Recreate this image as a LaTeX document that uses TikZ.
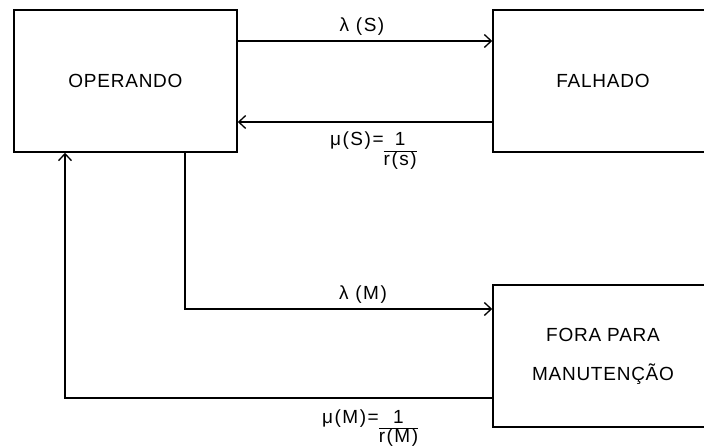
\documentclass[tikz,border=0pt]{standalone}
\usepackage{fontspec}
\setmainfont{Liberation Sans}
\newfontfamily\lblfont[LetterSpace=8]{Liberation Sans}
\newfontfamily\boxfont[LetterSpace=4]{Liberation Sans}
\usetikzlibrary{arrows.meta}
\begin{document}
\begin{tikzpicture}[x=1pt,y=-1pt,
  statebox/.style={draw,line width=1.5pt,rectangle,minimum height=142pt,inner sep=0pt,font=\boxfont\fontsize{19}{39}\selectfont,align=center},
  arr/.style={line width=1.5pt,-{Straight Barb[length=7pt,width=13pt,line width=1.3pt]}},
  lbl/.style={font=\lblfont\fontsize{19}{20}\selectfont,inner sep=0pt}]
\useasboundingbox (0,0) rectangle (704,446);
\clip (0,0) rectangle (704,446);
\node[statebox,minimum width=223pt] (op) at (125.5,81) {OPERANDO};
\node[statebox,minimum width=220pt] (fal) at (603,81) {FALHADO};
\node[statebox,minimum width=220pt] (fora) at (603,356) {FORA PARA\\MANUTENÇÃO};
% lambda(S)
\draw[arr] ([yshift=40pt]op.east) -- ([yshift=40pt]fal.west);
% mu(S)
\draw[arr] ([yshift=-41pt]fal.west) -- ([yshift=-41pt]op.east);
% lambda(M)
\draw[arr] ([xshift=59.5pt]op.south) |- ([yshift=47pt]fora.west);
% mu(M)
\draw[arr] ([yshift=-42pt]fora.west) -| ([xshift=-60.5pt]op.south);
% labels
\node[lbl] (ls) at (362,27) {λ (S)};
\node[lbl] (lm) at (363,295) {λ (M)};
\node[lbl,anchor=base west] (ms) at (330,146) {μ(S)=\renewcommand\arraystretch{0.8}\setlength\arrayrulewidth{1.2pt}\begin{tabular}[t]{@{}c@{}}1\\\hline r(s)\end{tabular}};
\node[lbl,anchor=base west] (mm) at (322,423) {μ(M)=\renewcommand\arraystretch{0.8}\setlength\arrayrulewidth{1.2pt}\begin{tabular}[t]{@{}c@{}}1\\\hline r(M)\end{tabular}};
\end{tikzpicture}
\end{document}
